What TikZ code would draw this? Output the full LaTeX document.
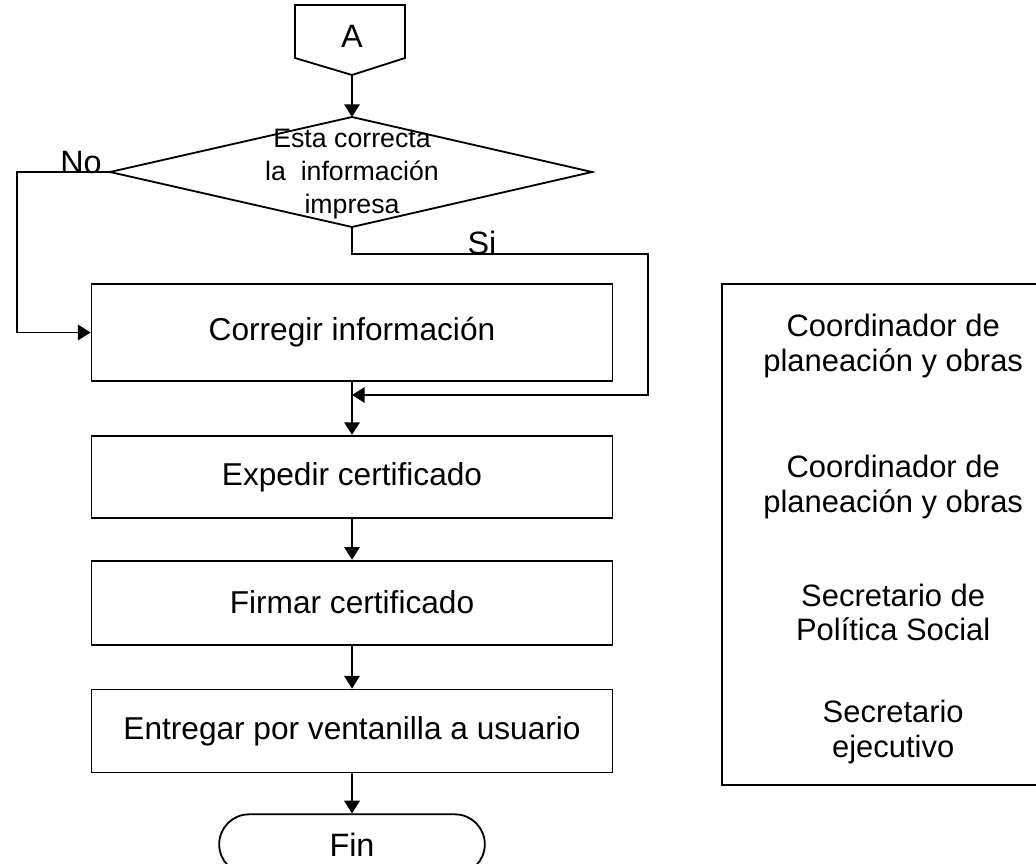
\documentclass[tikz,border=0pt]{standalone}
\usepackage{fontspec}
\setmainfont{Liberation Sans}
\usetikzlibrary{arrows.meta,positioning,shapes.misc}

\begin{document}
\begin{tikzpicture}[node distance=1cm, >={Triangle[length=9pt,width=11pt]}, line width=1.3pt,
  proc/.style={draw, minimum width=13.025cm, font=\fontsize{22.5}{25}\selectfont},
  term/.style={draw, rounded rectangle, minimum width=6.875cm, minimum height=1.5cm, font=\fontsize{23}{25}\selectfont},
  lbl/.style={inner sep=0pt, font=\fontsize{23}{25}\selectfont},
  role/.style={align=center, font=\fontsize{22}{24.2}\selectfont}]
  \useasboundingbox (0,0) rectangle (25.9,-21.6);
  \clip (0,0) rectangle (25.9,-21.6);

  % conector A
  \draw (7.375,-0.125) -- (10.125,-0.125) -- (10.125,-1.45) -- (8.8,-1.875) -- (7.375,-1.45) -- cycle;
  \node[lbl] (A) at (8.8,-0.9) {A};
  \coordinate (Apt) at (8.8,-1.875);

  % decision
  \coordinate (dtop) at (8.8,-2.925);
  \coordinate (dleft) at (2.75,-4.3);
  \coordinate (dright) at (14.8,-4.3);
  \coordinate (dbot) at (8.8,-5.675);
  \draw (dtop) -- (dright) -- (dbot) -- (dleft) -- cycle;
  \node[align=center, inner sep=0pt, font=\fontsize{19}{23.5}\selectfont] (pregunta) at (8.8,-4.35)
    {Esta correcta\\la\ \ información\\impresa};

  \node[proc, minimum height=2.425cm] (corregir) at (8.8,-8.3125) {Corregir información};
  \node[proc, minimum height=2.05cm, below=1.325cm of corregir] (expedir) {Expedir certificado};
  \node[proc, minimum height=2.1cm, below=1.025cm of expedir] (firmar) {Firmar certificado};
  \node[proc, minimum height=2.075cm, below=1.075cm of firmar] (entregar) {Entregar por ventanilla a usuario};
  \node[term, below=1cm of entregar] (fin) {Fin};

  \draw[->] (Apt) -- (dtop);
  % rama No
  \coordinate (noX) at (0.425,-4.3);
  \draw[->] (dleft) -- (noX) |- (corregir.west);
  \node[lbl] (no) at (2.025,-4.075) {No};
  % rama Si
  \coordinate (siX) at (16.2,-6.35);
  \coordinate (merge) at (8.8,-9.875);
  \draw[->] (dbot) |- (siX) |- (merge);
  \node[lbl] (si) at (12.05,-6.075) {Si};

  \draw[->] (corregir) -- (expedir);
  \draw[->] (expedir) -- (firmar);
  \draw[->] (firmar) -- (entregar);
  \draw[->] (entregar) -- (fin);

  % responsables
  \node[draw, anchor=north west, minimum width=8.2cm, minimum height=12.525cm] (resp) at (18.025,-7.075) {};
  \node[role] (rol1) at (22.33,-8.65) {Coordinador de\\planeación y obras};
  \node[role] (rol2) at (22.33,-12.175) {Coordinador de\\planeación y obras};
  \node[role] (rol3) at (22.33,-15.3) {Secretario de\\Política Social};
  \node[role] (rol4) at (22.33,-18.3) {Secretario\\ejecutivo};
\end{tikzpicture}
\end{document}
